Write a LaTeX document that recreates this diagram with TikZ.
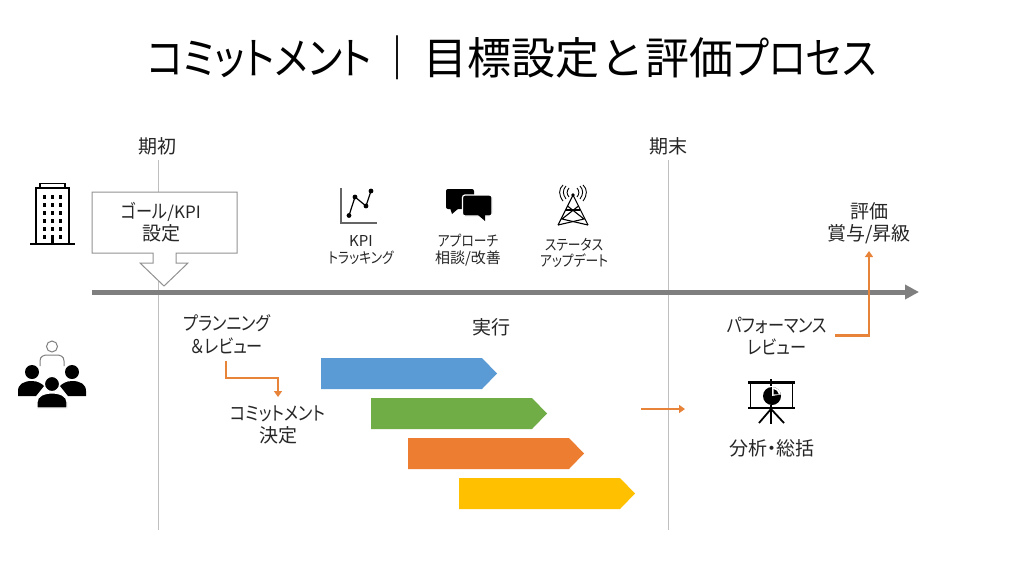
\documentclass[tikz,border=0pt]{standalone}
\usepackage{fontspec}
\setmainfont[RawFeature=+palt]{Noto Sans CJK JP}
\newfontfamily\kn[FakeStretch=.85,RawFeature=+palt]{Noto Sans CJK JP}
\newfontfamily\kt[FakeStretch=.87,RawFeature=+palt]{Noto Sans CJK JP}
\usetikzlibrary{arrows.meta}
\definecolor{ink}{HTML}{262626}
\definecolor{vline}{HTML}{BFBFBF}
\definecolor{axisc}{HTML}{7F7F7F}
\definecolor{flow}{HTML}{E8833A}
\definecolor{bluebar}{HTML}{5B9BD5}
\definecolor{greenbar}{HTML}{70AD47}
\definecolor{orangebar}{HTML}{ED7D31}
\definecolor{yellowbar}{HTML}{FFC000}
\tikzset{
  x=1pt,y=-1pt,
  lab/.style={text=ink,inner sep=0pt,align=center,font=\fontsize{19}{22.5}\selectfont},
  smalllab/.style={text=ink,inner sep=0pt,align=center,font=\fontsize{15}{16.5}\selectfont},
  flowline/.style={draw=flow,line width=2.5pt,-{Triangle[length=6pt,width=8pt]}},
}
\newcommand{\ribbon}[3]{\fill[#3] (#1,#2) -- ++(161,0) -- ++(15,15.5) -- ++(-15,15.5) -- ++(-161,0) -- cycle;}
\begin{document}
\begin{tikzpicture}
\useasboundingbox (0,0) rectangle (1024,576);
\fill[white] (0,0) rectangle (1024,576);
% title
\node[text=black,inner sep=0pt,anchor=west,font=\fontsize{44}{50}\selectfont] (title) at (147,58) {{\kt コミットメント}\makebox[52pt]{｜}目標設定\hspace{2pt}と\hspace{5pt}評価{\kt プロセス}};
% guide lines
\coordinate (s1) at (158,160); \coordinate (e1) at (158,530);
\coordinate (s2) at (668,160); \coordinate (e2) at (668,530);
\draw[vline,line width=1pt] (s1) -- (e1);
\draw[vline,line width=1pt] (s2) -- (e2);
% timeline
\coordinate (tl0) at (92,292); \coordinate (tl1) at (919,292);
\draw[axisc,line width=5pt,-{Triangle[length=14pt,width=14pt]}] (tl0) -- (tl1);
% goal callout
\draw[draw=axisc!85,line width=1pt,fill=white] (92,192) -- (237,192) -- (237,253) -- (176,253) -- (176,263) -- (188,263) -- (164,286) -- (140,263) -- (153,263) -- (153,253) -- (92,253) -- cycle;
\node[lab] (goal) at (161,222) {{\kn ゴール}{\fontsize{17}{22.5}\selectfont /KPI}\\設定};
% labels
\node[lab] (kisho) at (157,146) {期初};
\node[lab] (kimatsu) at (668,146) {期末};
\node[smalllab] (kpi) at (361,250) {KPI\\{\kn トラッキング}};
\node[smalllab] (app) at (468,250) {{\kn アプローチ}\\相談/改善};
\node[smalllab] (status) at (574,253) {{\kn ステータス}\\{\kn アップデート}};
\node[lab] (plan) at (227,334) {{\kn プランニング}\\{\kn ＆レビュー}};
\node[lab] (commit) at (278,425) {{\kn コミットメント}\\決定};
\node[lab] (exec) at (491,327) {実行};
\node[lab] (perf) at (777,336) {{\kn パフォーマンス}\\{\kn レビュー}};
\node[lab] (ana) at (772,448) {分析・総括};
\node[lab] (eval) at (869,223) {評価\\賞与/昇級};
% ribbons
\ribbon{321}{358}{bluebar}
\ribbon{371}{398}{greenbar}
\ribbon{408}{438}{orangebar}
\ribbon{459}{478}{yellowbar}
% orange connectors
\coordinate (p0) at (226,361); \coordinate (p1) at (278,397);
\draw[flowline] (p0) -- (226,378) -- (278,378) -- (p1);
\coordinate (m0) at (641,409); \coordinate (m1) at (685,409);
\draw[flowline] (m0) -- (m1);
\coordinate (q0) at (835,335.5); \coordinate (q1) at (869,251);
\draw[flowline] (q0) -- (869,335.5) -- (q1);
% building icon
\draw[black,line width=1.4pt] (30,244) -- (75,244);
\draw[black,line width=1.4pt] (36,244) -- (36,188) -- (69,188) -- (69,244);
\draw[black,line width=1.2pt] (40,188) -- (40,183.5) -- (65,183.5) -- (65,188);
\foreach \yy in {197,205,213,221,229,237}{
  \foreach \xx in {44,52,60}{\fill[black] (\xx-1.5,\yy-2) rectangle (\xx+1.5,\yy+2);}
}
\fill[white] (49,234) rectangle (55,243);
\fill[black] (50.5,235) rectangle (53.5,244);
% chart icon
\draw[axisc!80!black,line width=1.2pt] (341,188) -- (341,223) -- (377,223);
\draw[black,line width=1.2pt] (349,215.5) -- (355,197) -- (366,206) -- (371,191);
\foreach \p in {(349,215.5),(355,197),(366,206),(371,191)}{\fill[black] \p circle (2.4);}
% chat icon
\fill[black,rounded corners=2pt] (446,189) rectangle (474,209);
\fill[black] (450,208) -- (452,214) -- (459,208) -- cycle;
\draw[white,line width=1.2pt,fill=black,rounded corners=2.5pt] (462.5,195) rectangle (492,216);
\fill[black] (478,215) -- (485,221) -- (485,215) -- cycle;
% tower icon
\begin{scope}[line width=1.1pt,black]
\draw (573,195) -- (558,225); \draw (573,195) -- (588,225);
\draw (566,210) -- (580,210);
\draw (567.5,206) -- (584,219) -- (558,225);
\draw (578.5,206) -- (562,219) -- (588,225);
\fill (573,195) circle (1.8);
\draw[line width=.9pt] (569,197) .. controls (566.5,194) and (566.5,191) .. (569,188);
\draw[line width=.9pt] (566,199) .. controls (562.5,194) and (562.5,190) .. (566,186);
\draw[line width=.9pt] (563,201) .. controls (558.5,195) and (558.5,189) .. (563,185);
\draw[line width=.9pt] (577,197) .. controls (579.5,194) and (579.5,191) .. (577,188);
\draw[line width=.9pt] (580,199) .. controls (583.5,194) and (583.5,190) .. (580,186);
\draw[line width=.9pt] (583,201) .. controls (587.5,195) and (587.5,189) .. (583,185);
\end{scope}
% people icon
\draw[axisc,line width=1pt] (52,346.5) circle (5.5);
\draw[axisc,line width=1pt] (40,366) -- (40,361) .. controls (40,356) and (44,355) .. (48,355) -- (56,355) .. controls (60,355) and (64,356) .. (64,361) -- (64,366);
\fill[black] (32,372) circle (7);
\fill[black] (72,372) circle (7);
\fill[black] (18,396) -- (18,391) .. controls (18,384) and (24,381) .. (32,381) .. controls (38,381) and (42,384) .. (44,386) -- (36,396) -- cycle;
\fill[black] (86,396) -- (86,391) .. controls (86,384) and (80,381) .. (72,381) .. controls (66,381) and (62,384) .. (60,386) -- (68,396) -- cycle;
\draw[white,line width=1.2pt,fill=black] (52,384) circle (7.6);
\draw[white,line width=1.2pt,fill=black] (37,408) -- (37,402) .. controls (37,396) and (44,393) .. (52,393) .. controls (60,393) and (67,396) .. (67,402) -- (67,408) -- cycle;
% presentation icon
\begin{scope}[line width=1.8pt,black]
\draw[line width=2.4pt] (748,382.5) -- (795,382.5);
\draw[line width=2.4pt] (748,408) -- (795,408);
\draw (750.5,382.5) -- (750.5,408);
\draw (792.5,382.5) -- (792.5,408);
\draw (771,379) -- (771,424);
\draw (771,409) -- (759,423);
\draw (771,409) -- (784,423);
\fill[white] (762,386) rectangle (782,405);
\fill (772,396) circle (9);
\fill[white] (772,396) -- (772,387) arc (-90:-10:9) -- cycle;
\fill (773.5,394.5) -- (773.5,389) arc (-80:-10:6.5) -- cycle;
\end{scope}
\end{tikzpicture}
\end{document}
